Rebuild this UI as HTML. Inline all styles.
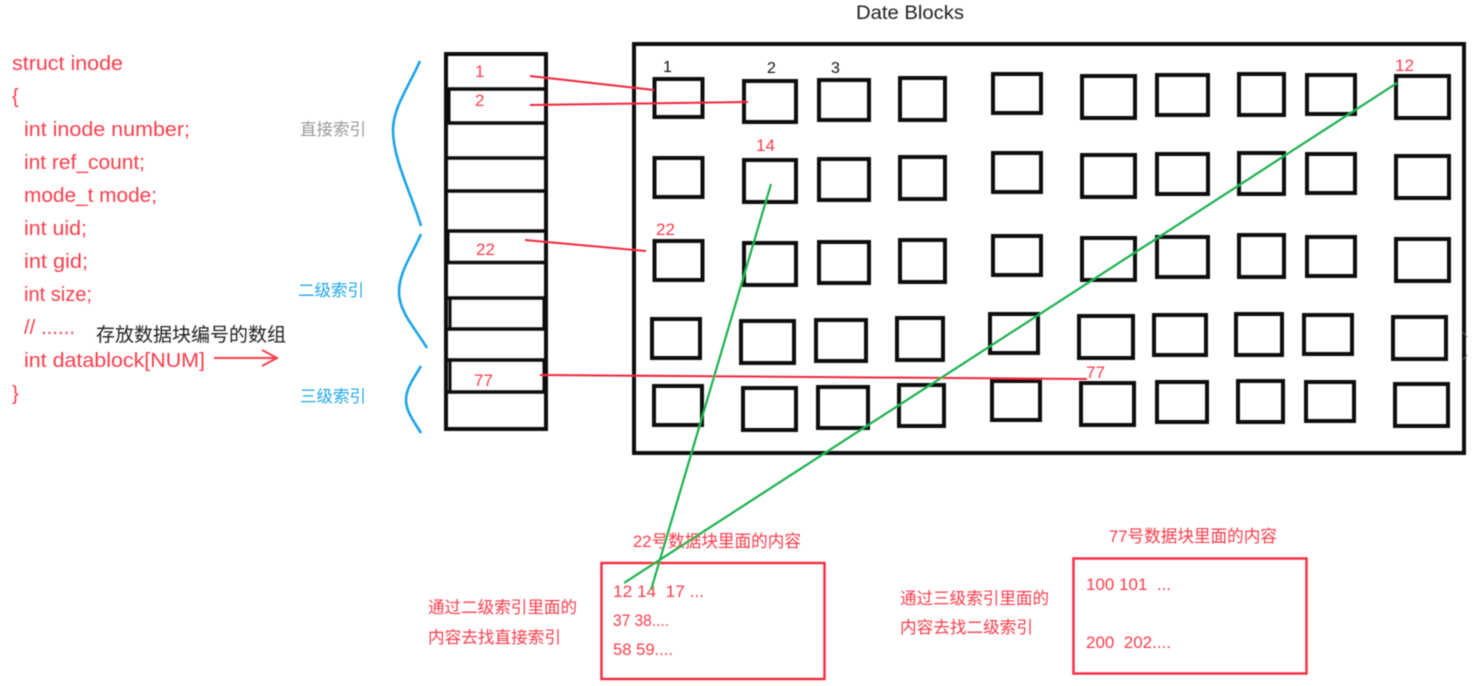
<!DOCTYPE html>
<html>
<head>
<meta charset="utf-8">
<style>
html,body{margin:0;padding:0;background:#fff;width:1472px;height:686px;overflow:hidden}
svg{display:block}
text{font-family:"Liberation Sans","Noto Sans CJK SC",sans-serif}
.r{fill:#fa3c4c}
.c{font-size:20px}
.n{font-size:17px}
.s{font-size:17px}
.z{font-size:16.5px;font-family:"Noto Sans CJK SC",sans-serif}
.b{fill:none;stroke:#0a0a0a;stroke-width:4}
</style>
</head>
<body>
<svg width="1472" height="686" viewBox="0 0 1472 686" xmlns="http://www.w3.org/2000/svg">
<defs><filter id="soft" x="0" y="0" width="1472" height="686" filterUnits="userSpaceOnUse"><feGaussianBlur stdDeviation="0.4"/></filter></defs>
<g filter="url(#soft)">

<!-- struct -->
<g class="r c">
<text x="12" y="70" textLength="111" lengthAdjust="spacingAndGlyphs">struct inode</text>
<text x="12" y="103">{</text>
<text x="24" y="136" textLength="166" lengthAdjust="spacingAndGlyphs">int inode number;</text>
<text x="24" y="169" textLength="121" lengthAdjust="spacingAndGlyphs">int ref_count;</text>
<text x="24" y="202" textLength="133" lengthAdjust="spacingAndGlyphs">mode_t mode;</text>
<text x="24" y="235" textLength="63" lengthAdjust="spacingAndGlyphs">int uid;</text>
<text x="24" y="268" textLength="64" lengthAdjust="spacingAndGlyphs">int gid;</text>
<text x="24" y="301" textLength="68" lengthAdjust="spacingAndGlyphs">int size;</text>
<text x="24" y="334" textLength="51" lengthAdjust="spacingAndGlyphs">// ......</text>
<text x="24" y="367" textLength="181" lengthAdjust="spacingAndGlyphs">int datablock[NUM]</text>
<text x="12" y="400">}</text>
</g>
<text x="96" y="341" font-size="19" fill="#222" textLength="190" lengthAdjust="spacingAndGlyphs" style="font-family:'Noto Sans CJK SC',sans-serif">存放数据块编号的数组</text>
<path d="M214 358H277M262 350L277 358L262 366" fill="none" stroke="#fa3c4c" stroke-width="2"/>

<!-- brace labels -->
<text class="z" x="300" y="135" fill="#999" textLength="66" lengthAdjust="spacingAndGlyphs">直接索引</text>
<text class="z" x="298" y="296" fill="#22a7e8" textLength="66" lengthAdjust="spacingAndGlyphs">二级索引</text>
<text class="z" x="300" y="402" fill="#22a7e8" textLength="66" lengthAdjust="spacingAndGlyphs">三级索引</text>

<!-- braces -->
<g fill="none" stroke="#1ea3e6" stroke-width="2.6">
<path d="M420 61C408 88 393 108 393 130C393 160 412 195 421 226"/>
<path d="M421 234C412 255 399 272 399 292C399 312 415 328 427 348"/>
<path d="M421 366C414 378 406 388 406 400C406 412 415 423 421 433"/>
</g>

<!-- index column -->
<rect class="b" x="446" y="54" width="100" height="375"/>
<g stroke="#0a0a0a" stroke-width="3.4">
<path d="M446 89H546M446 123H546M446 158H546M446 191H546M446 231H546M446 262.500H546M446 298H546M446 329H546M446 360H546M446 392H546"/>
</g>
<g stroke="#0a0a0a" stroke-width="3" fill="none">
<path d="M449 90V122"/>
<path d="M448 232V262"/>
<path d="M450 299V329M544 299V329"/>
<path d="M450 360V391M544 360V391"/>
</g>

<!-- outer frame -->
<rect class="b" x="634" y="44" width="830" height="409"/>

<!-- row 1 -->
<g class="b">
<rect x="654.500" y="79" width="48" height="38"/>
<rect x="744" y="81" width="52" height="41"/>
<rect x="819" y="80" width="50" height="40"/>
<rect x="900" y="78" width="45" height="42"/>
<rect x="993" y="74" width="48" height="39"/>
<rect x="1082" y="76" width="53" height="42"/>
<rect x="1157" y="75" width="51" height="40"/>
<rect x="1239" y="74" width="45" height="41"/>
<rect x="1307" y="75" width="48" height="39"/>
<rect x="1396" y="76" width="53" height="42"/>
</g>
<!-- row 2 -->
<g class="b">
<rect x="654.500" y="158" width="48" height="39"/>
<rect x="744" y="160" width="52" height="42"/>
<rect x="819" y="159" width="50" height="41"/>
<rect x="900" y="157" width="45" height="42"/>
<rect x="993" y="153" width="48" height="39"/>
<rect x="1082" y="155" width="53" height="42"/>
<rect x="1157" y="154" width="51" height="40"/>
<rect x="1239" y="153" width="45" height="41"/>
<rect x="1307" y="154" width="48" height="39"/>
<rect x="1396" y="156" width="53" height="42"/>
</g>
<!-- row 3 -->
<g class="b">
<rect x="654.500" y="241" width="48" height="39"/>
<rect x="744" y="243" width="52" height="42"/>
<rect x="819" y="242" width="50" height="41"/>
<rect x="900" y="240" width="45" height="42"/>
<rect x="993" y="236" width="48" height="39"/>
<rect x="1082" y="238" width="53" height="42"/>
<rect x="1157" y="237" width="51" height="40"/>
<rect x="1239" y="235" width="45" height="42"/>
<rect x="1307" y="237" width="48" height="39"/>
<rect x="1396" y="239" width="53" height="42"/>
</g>
<!-- row 4 -->
<g class="b">
<rect x="652" y="319" width="48" height="39"/>
<rect x="741" y="321" width="53" height="42"/>
<rect x="816" y="320" width="50" height="41"/>
<rect x="897" y="318" width="46" height="42"/>
<rect x="990" y="314" width="48" height="39"/>
<rect x="1079" y="316" width="54" height="42"/>
<rect x="1154" y="315" width="52" height="40"/>
<rect x="1236" y="314" width="46" height="41"/>
<rect x="1304" y="315" width="48" height="39"/>
<rect x="1393" y="317" width="53" height="42"/>
</g>
<!-- row 5 -->
<g class="b">
<rect x="654" y="386" width="48" height="39"/>
<rect x="743" y="388" width="53" height="42"/>
<rect x="818" y="387" width="50" height="41"/>
<rect x="899" y="385" width="45" height="41"/>
<rect x="992" y="381" width="48" height="39"/>
<rect x="1081" y="383" width="53" height="42"/>
<rect x="1157" y="382" width="50" height="40"/>
<rect x="1238" y="381" width="45" height="41"/>
<rect x="1306" y="382" width="48" height="39"/>
<rect x="1395" y="384" width="53" height="42"/>
</g>

<!-- title & small numbers -->
<text x="856" y="19" font-size="19" fill="#222" textLength="108" lengthAdjust="spacingAndGlyphs">Date Blocks</text>
<g font-size="16" fill="#111">
<text x="663" y="72">1</text>
<text x="767" y="73">2</text>
<text x="831" y="73">3</text>
</g>
<g class="r n">
<text x="475" y="77">1</text>
<text x="475" y="106">2</text>
<text x="476" y="255">22</text>
<text x="474" y="386">77</text>
<text x="756" y="151">14</text>
<text x="656" y="235">22</text>
<text x="1395" y="71">12</text>
<text x="1086" y="378">77</text>
</g>

<!-- red connectors -->
<g fill="none" stroke="#f0283c" stroke-width="2">
<path d="M530 76L654 90"/>
<path d="M530 105L748 102"/>
<path d="M525 240L646 251"/>
<path d="M540 375L812 377L1087 379"/>
</g>

<!-- bottom boxes -->
<g fill="none" stroke="#f52a3c" stroke-width="2.4">
<rect x="601.500" y="563" width="223" height="116"/>
<rect x="1073.500" y="558.500" width="233" height="115"/>
</g>
<g class="r s">
<text x="633" y="547" textLength="168" lengthAdjust="spacingAndGlyphs">22号数据块里面的内容</text>
<text x="1109" y="542" textLength="168" lengthAdjust="spacingAndGlyphs">77号数据块里面的内容</text>
<text x="613" y="597" textLength="91" lengthAdjust="spacingAndGlyphs" xml:space="preserve">12 14  17 ...</text>
<text x="613" y="626" textLength="56" lengthAdjust="spacingAndGlyphs">37 38....</text>
<text x="613" y="655" textLength="60" lengthAdjust="spacingAndGlyphs">58 59....</text>
<text x="1086" y="590" textLength="85" lengthAdjust="spacingAndGlyphs" xml:space="preserve">100 101  ...</text>
<text x="1086" y="648" textLength="85" lengthAdjust="spacingAndGlyphs" xml:space="preserve">200  202....</text>
</g>
<g class="r">
<text class="z" x="428" y="613" textLength="149" lengthAdjust="spacingAndGlyphs">通过二级索引里面的</text>
<text class="z" x="428" y="643" textLength="133" lengthAdjust="spacingAndGlyphs">内容去找直接索引</text>
<text class="z" x="900" y="604" textLength="149" lengthAdjust="spacingAndGlyphs">通过三级索引里面的</text>
<text class="z" x="900" y="633" textLength="133" lengthAdjust="spacingAndGlyphs">内容去找二级索引</text>
</g>

<!-- green connectors -->
<g fill="none" stroke="#1fb050" stroke-width="2.2">
<path d="M1397 83L624 583"/>
<path d="M771 184L651 590"/>
</g>

<!-- edge mark -->
<path d="M1463 332L1467 337M1467 355L1463 360" fill="none" stroke="#555" stroke-width="1"/>
</g>
</svg>
</body>
</html>
